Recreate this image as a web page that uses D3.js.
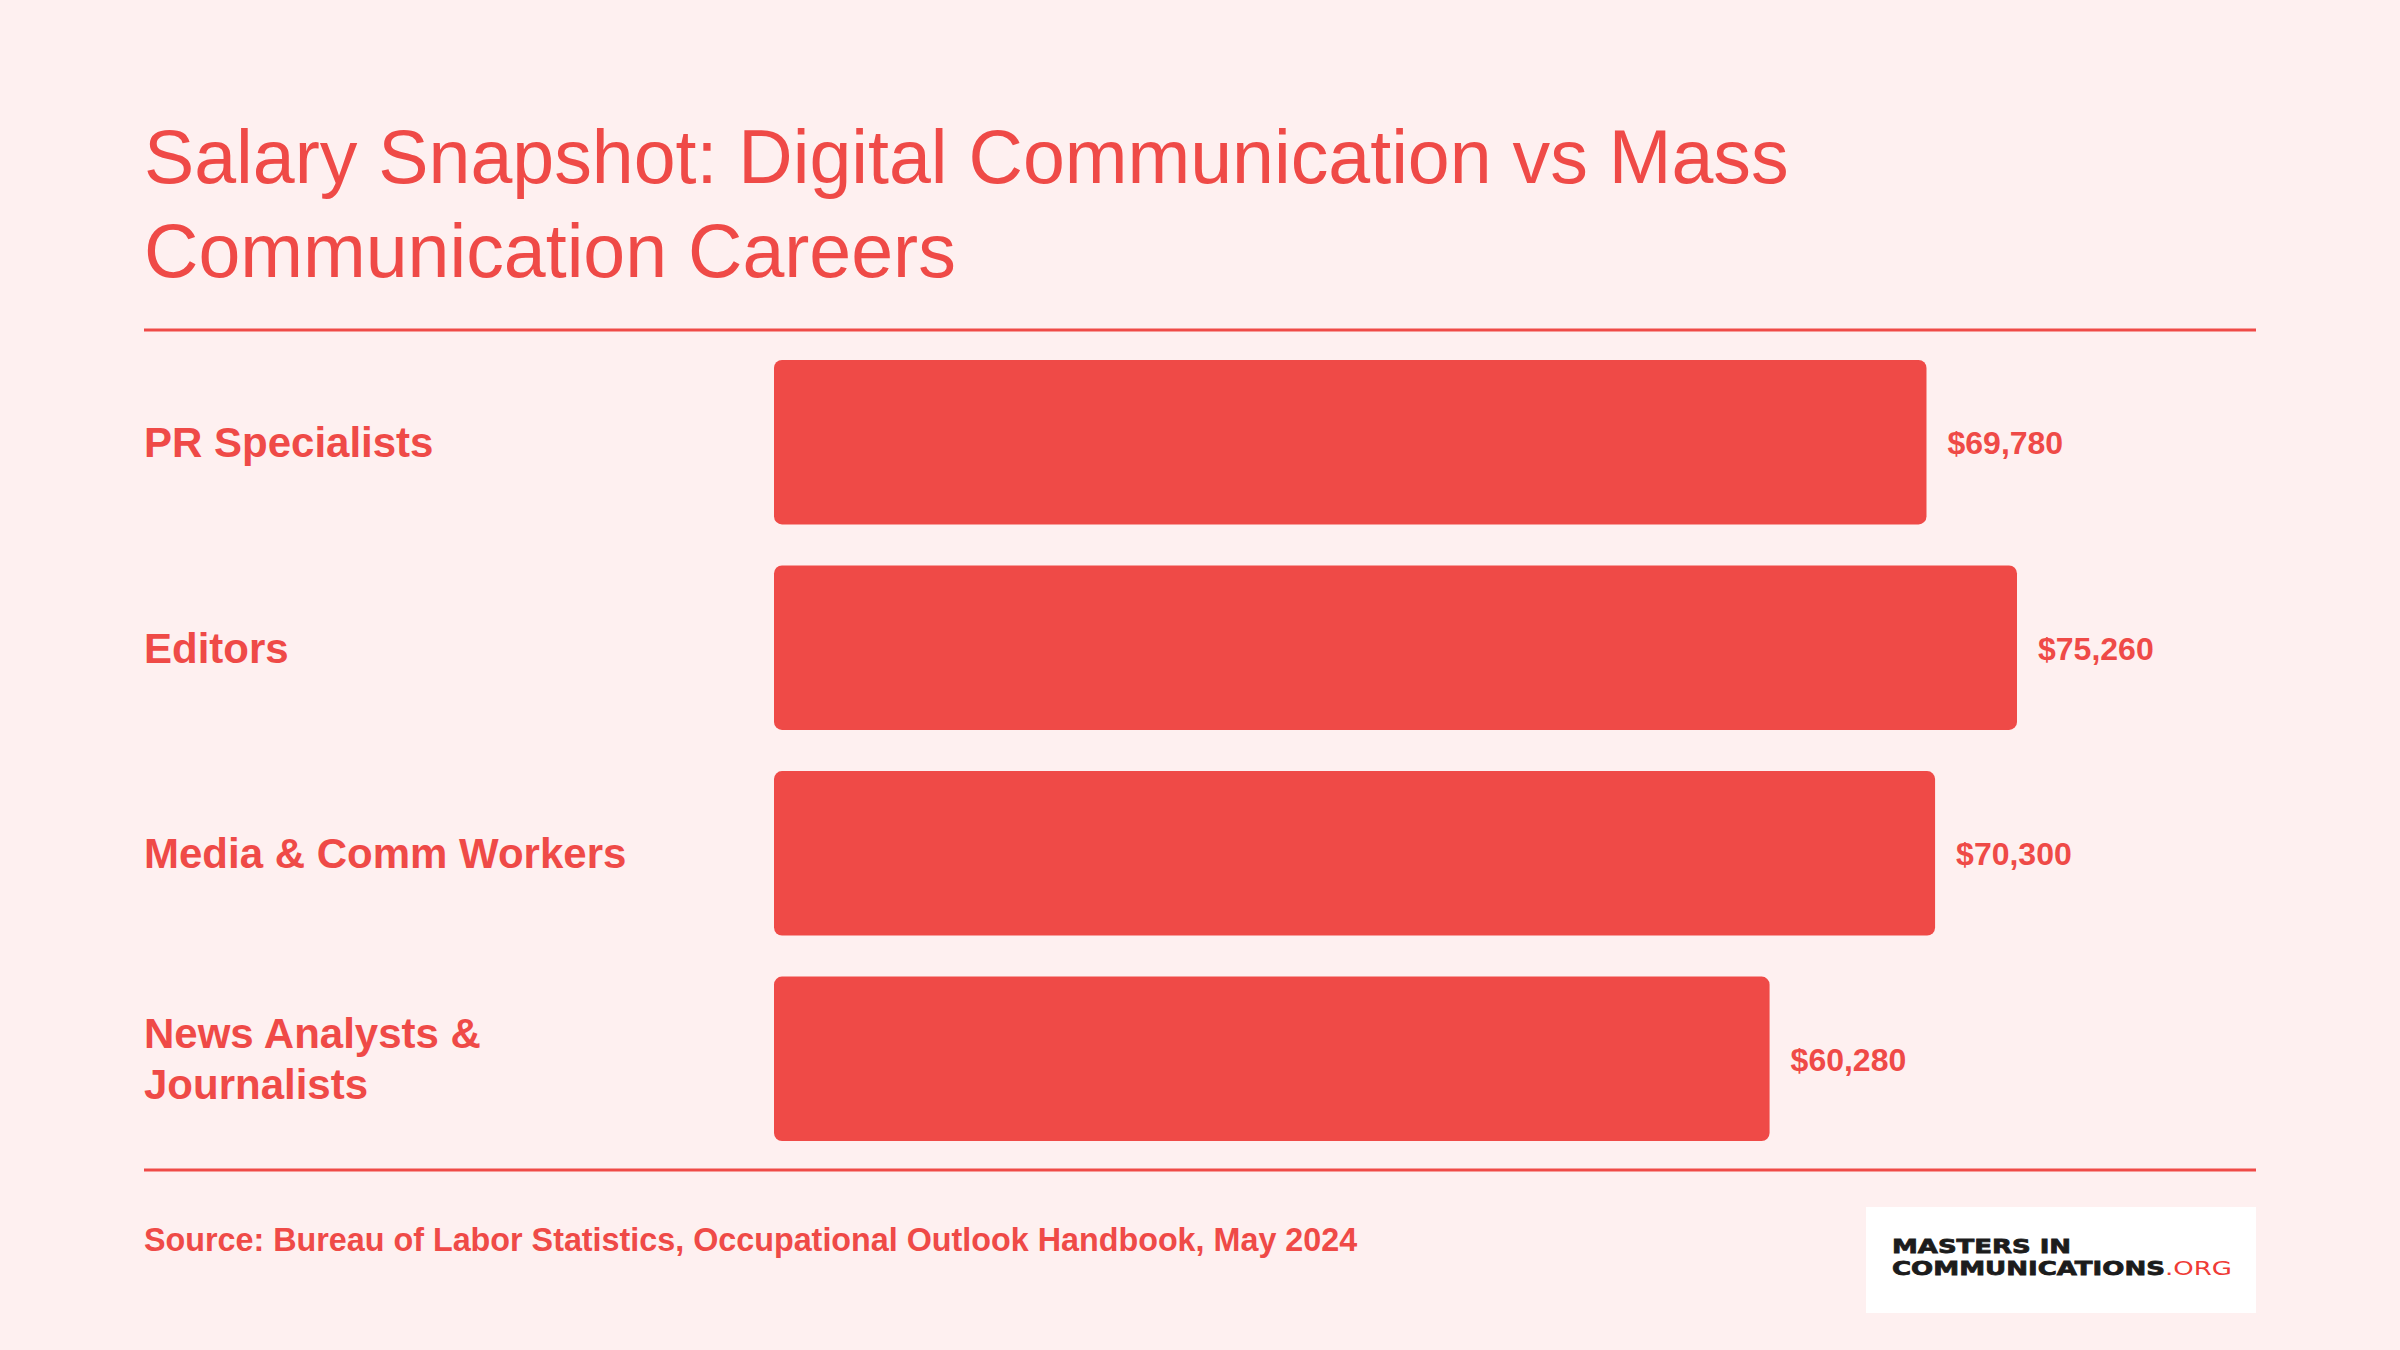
<!DOCTYPE html>
<html>
<head>
<meta charset="utf-8">
<script src="https://cdn.jsdelivr.net/npm/d3@7"></script>
<style>
  body { margin: 0; background: #fef0f0; }
  svg { display: block; font-family: "Liberation Sans", Arial, Helvetica, sans-serif; }
</style>
</head>
<body>
<div id="chart"></div>
<script>
// data
const categories = ['PR Specialists', 'Editors', 'Media & Comm Workers', 'News Analysts & Journalists'];
const salaries = [69780, 75260, 70300, 60280];
const title = 'Salary Snapshot: Digital Communication vs Mass Communication Careers';
const source = 'Source: Bureau of Labor Statistics, Occupational Outlook Handbook, May 2024';

const width = 2400, height = 1350;
const red = '#ef4a47';
const left = 144, right = 2256;

const svg = d3.select('#chart').append('svg')
  .attr('width', width)
  .attr('height', height);

svg.append('rect').attr('width', width).attr('height', height).attr('fill', '#fef0f0');

// wraps a text element into tspans no wider than maxWidth
function wrap(textSel, str, maxWidth, lineHeight) {
  const words = str.split(' ');
  let line = [];
  let tspan = textSel.append('tspan').attr('x', textSel.attr('x'));
  const lines = [tspan];
  words.forEach(w => {
    line.push(w);
    tspan.text(line.join(' '));
    if (tspan.node().getComputedTextLength() > maxWidth && line.length > 1) {
      line.pop();
      tspan.text(line.join(' '));
      line = [w];
      tspan = textSel.append('tspan').attr('x', textSel.attr('x')).text(w);
      lines.push(tspan);
    }
  });
  lines.forEach((t, i) => t.attr('dy', i === 0 ? 0 : lineHeight));
  return lines.length;
}

// title
const titleText = svg.append('text')
  .attr('x', left)
  .attr('y', 183)
  .attr('fill', red)
  .attr('font-size', 75.3);
wrap(titleText, title, right - left, 94);

// rules
const rule = y => svg.append('line')
  .attr('x1', left).attr('x2', right)
  .attr('y1', y).attr('y2', y)
  .attr('stroke', red).attr('stroke-width', 3);
rule(330);
rule(1170);

// scales
const x = d3.scaleLinear()
  .domain([0, d3.max(salaries)])
  .range([774, 2017]);

const y = d3.scaleBand()
  .domain(categories)
  .range([360, 1141])
  .paddingInner(0.2);

const rows = categories.map((c, i) => ({ name: c, value: salaries[i] }));

svg.append('g').selectAll('rect')
  .data(rows)
  .join('rect')
  .attr('x', x(0))
  .attr('y', d => y(d.name))
  .attr('width', d => x(d.value) - x(0))
  .attr('height', y.bandwidth())
  .attr('rx', 8)
  .attr('fill', red);

// value labels
svg.append('g').selectAll('text')
  .data(rows)
  .join('text')
  .attr('x', d => x(d.value) + 21)
  .attr('y', d => y(d.name) + y.bandwidth() / 2)
  .attr('dy', '0.37em')
  .attr('fill', red)
  .attr('font-size', 32)
  .attr('font-weight', 'bold')
  .text(d => d3.format('$,')(d.value));

// category labels, wrapped and centred on the bar
svg.append('g').selectAll('text')
  .data(rows)
  .join('text')
  .attr('x', left)
  .attr('fill', red)
  .attr('font-size', 42)
  .attr('font-weight', 'bold')
  .each(function (d) {
    const t = d3.select(this);
    const n = wrap(t, d.name, 500, 51);
    const cy = y(d.name) + y.bandwidth() / 2;
    t.attr('y', cy + 15 - (n - 1) * 51 / 2);
  });

// source note
svg.append('text')
  .attr('x', left)
  .attr('y', 1251)
  .attr('fill', red)
  .attr('font-size', 32.3)
  .attr('font-weight', 'bold')
  .text(source);

// logo
const logo = svg.append('g').attr('transform', 'translate(1866,1207)');
logo.append('rect').attr('width', 390).attr('height', 106).attr('fill', '#ffffff');
logo.append('text')
  .attr('x', 26).attr('y', 46)
  .attr('font-family', '"DejaVu Sans", sans-serif')
  .attr('font-weight', 'bold')
  .attr('font-size', 20)
  .attr('fill', '#1c1c1c')
  .attr('stroke', '#1c1c1c')
  .attr('stroke-width', 0.8)
  .attr('textLength', 179)
  .attr('lengthAdjust', 'spacingAndGlyphs')
  .text('MASTERS IN');
const l2 = logo.append('text')
  .attr('x', 26).attr('y', 68)
  .attr('font-family', '"DejaVu Sans", sans-serif')
  .attr('font-weight', 'bold')
  .attr('font-size', 20)
  .attr('textLength', 340)
  .attr('lengthAdjust', 'spacingAndGlyphs');
l2.append('tspan').attr('fill', '#1c1c1c').attr('stroke', '#1c1c1c').attr('stroke-width', 0.8).text('COMMUNICATIONS');
l2.append('tspan').attr('fill', '#ef3b36').attr('font-weight', 'normal').text('.ORG');
</script>
</body>
</html>
